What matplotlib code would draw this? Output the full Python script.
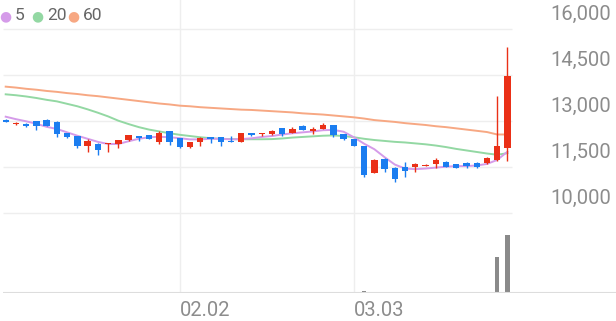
import matplotlib.pyplot as plt
import numpy as np

# daily candles (50 sessions), x ticks at 02.02 and 03.03
opens = [13030, 12890, 12910, 13000, 13040, 12970, 12600, 12510, 12200, 12240,
         12240, 12240, 12380, 12510, 12540, 12300, 12660, 12430, 12140, 12330,
         12470, 12480, 12360, 12310, 12600, 12570, 12580, 12770, 12620, 12850,
         12690, 12740, 12870, 12570, 12400, 12180, 11310, 11760, 11460, 11500,
         11500, 11545, 11610, 11670, 11590, 11620, 11640, 11620, 11730, 12110]
highs = [13050, 12960, 12920, 13010, 13070, 12990, 12610, 12520, 12420, 12290,
         12270, 12390, 12550, 12520, 12550, 12670, 12680, 12450, 12320, 12470,
         12480, 12490, 12510, 12610, 12610, 12610, 12700, 12780, 12790, 12860,
         12820, 12920, 12880, 12590, 12410, 12190, 11760, 11780, 11510, 11670,
         11620, 11590, 11780, 11680, 11600, 11670, 11660, 11820, 13810, 15420]
lows = [12960, 12860, 12820, 12700, 12830, 12490, 12450, 12110, 12000, 11890,
        12000, 12130, 12360, 12360, 12400, 12240, 12220, 12130, 12130, 12190,
        12270, 12190, 12300, 12300, 12520, 12500, 12540, 12500, 12610, 12700,
        12580, 12730, 12490, 12390, 12170, 11180, 11290, 11330, 11010, 11180,
        11350, 11530, 11460, 11500, 11470, 11480, 11480, 11590, 11700, 11700]
closes = [12970, 12920, 12840, 12850, 12850, 12570, 12490, 12180, 12340, 12050,
          12270, 12380, 12540, 12450, 12420, 12610, 12330, 12140, 12310, 12460,
          12400, 12320, 12310, 12600, 12530, 12600, 12660, 12580, 12740, 12710,
          12740, 12880, 12550, 12400, 12180, 11240, 11730, 11420, 11100, 11370,
          11610, 11575, 11720, 11510, 11480, 11540, 11490, 11800, 12180, 14480]
volumes = [1.3, 1.1, 1.5, 1.2, 1.8, 1.4, 1.1, 1.6, 1.3, 1.2,
           1.5, 1.1, 1.3, 1.4, 1.2, 1.7, 1.5, 1.3, 1.1, 1.4,
           1.2, 1.3, 1.5, 1.1, 1.3, 1.2, 1.4, 1.6, 1.3, 1.7,
           1.3, 1.8, 1.4, 1.5, 1.3, 2.6, 1.9, 1.3, 1.2, 1.1,
           1.3, 1.1, 1.2, 1.3, 1.1, 1.2, 1.3, 1.8, 62.0, 100.0]

ma5 = [13140, 13060, 12990, 12910, 12810, 12740, 12630, 12520, 12420, 12320,
       12250, 12250, 12340, 12420, 12470, 12487, 12470, 12440, 12400, 12400,
       12420, 12420, 12400, 12410, 12435, 12480, 12510, 12560, 12600, 12630,
       12660, 12700, 12710, 12650, 12470, 12260, 12080, 11820, 11580, 11450,
       11430, 11450, 11480, 11510, 11530, 11530, 11550, 11600, 11730, 12000]
ma20 = [13870, 13840, 13800, 13750, 13690, 13640, 13560, 13480, 13380, 13270,
        13150, 13010, 12900, 12800, 12720, 12660, 12600, 12550, 12510, 12470,
        12440, 12420, 12410, 12405, 12405, 12405, 12410, 12430, 12460, 12480,
        12500, 12520, 12530, 12510, 12470, 12420, 12380, 12350, 12320, 12300,
        12270, 12240, 12200, 12150, 12090, 12040, 11990, 11940, 11900, 11950]
ma60 = [14120, 14090, 14050, 14020, 13980, 13950, 13910, 13880, 13840, 13810,
        13770, 13730, 13690, 13650, 13610, 13570, 13540, 13500, 13480, 13450,
        13430, 13410, 13390, 13370, 13360, 13340, 13320, 13300, 13280, 13250,
        13230, 13210, 13180, 13150, 13120, 13080, 13030, 13000, 12970, 12930,
        12900, 12870, 12830, 12800, 12760, 12720, 12680, 12640, 12560, 12560]

price_ticks = [10000, 11500, 13000, 14500, 16000]
date_ticks = [17, 34]
date_labels = ['02.02', '03.03']

ma_labels = ['5', '20', '60']
ma_colors = ['#d59be9', '#93d8a3', '#f7a883']
up_color = '#ea3017'
down_color = '#1b7df0'

plt.rcParams['font.family'] = ['Roboto', 'DejaVu Sans']

W, H = 616, 321
fig = plt.figure(figsize=(W / 100, H / 100), dpi=100)

# pixel layout: candle 0 at x=5.7, spacing 10.24 px
x0_px, step_px = 5.7, 10.24
xl = ((3 - x0_px) / step_px, (616 - x0_px) / step_px)
grid_end = (512 - x0_px) / step_px

ax = fig.add_axes([3 / W, (H - 220) / H, 613 / W, 220 / H])
axv = fig.add_axes([3 / W, (H - 293) / H, 613 / W, 73 / H])

px_per_won = 46 / 1500
ax.set_ylim(10000 - 7 / px_per_won, 10000 + 213 / px_per_won)
ax.set_xlim(*xl)
axv.set_xlim(*xl)
axv.set_ylim(0, max(volumes) * 73 / 58)

for a in (ax, axv):
    a.axis('off')
    for d in date_ticks:
        a.axvline(d, color='#eeeeee', lw=1, zorder=0)

ax.hlines(price_ticks, xl[0], grid_end, color='#eeeeee', lw=1, zorder=0)
for p in price_ticks:
    ax.annotate(f'{p:,}', xy=(611, p), xycoords=('figure pixels', 'data'),
                xytext=(0, 4), textcoords='offset points', ha='right', va='bottom',
                fontsize=14.5, color='#8c8c8c')

x = np.arange(len(opens))
for series, c in zip([ma60, ma20, ma5], ma_colors[::-1]):
    ax.plot(x, series, color=c, lw=1.4, zorder=2)

o = np.array(opens)
cl = np.array(closes)
colors = [up_color if c >= op else down_color for op, c in zip(o, cl)]
ax.vlines(x, lows, highs, color=colors, lw=1, zorder=3)
body = np.maximum(np.abs(cl - o), 35)
ax.bar(x, body, bottom=np.minimum(o, cl), width=0.62, color=colors, zorder=4)

axv.bar(x, volumes, width=0.4, color='#8a8a8a', zorder=2)
axv.axhline(0, color='#dddddd', lw=1.5, zorder=3)

for d, lab in zip(date_ticks, date_labels):
    axv.annotate(lab, xy=(d, 0), xycoords=('data', 'axes fraction'),
                 xytext=(0, -6), textcoords='offset points', ha='left', va='top',
                 fontsize=14.5, color='#8c8c8c')

# legend
legend_pos = [(5, 15), (37, 47), (73.5, 83)]
for (dx, tx), lab, c in zip(legend_pos, ma_labels, ma_colors):
    fig.text(dx / W, 1 - 16 / H, '●', color=c, fontsize=10, ha='center', va='center')
    fig.text(tx / W, 1 - 15 / H, lab, color='#666666', fontsize=12.5, ha='left', va='center')

fig.savefig('out.png', dpi=100)
